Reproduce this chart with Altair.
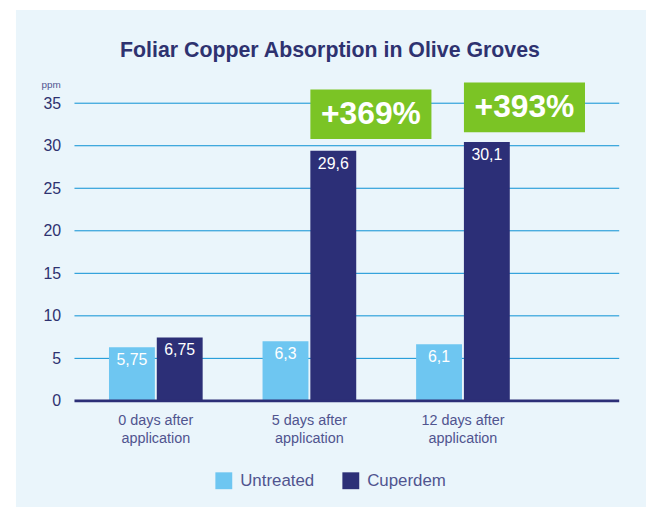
import altair as alt
import pandas as pd

# ---- data ----
categories = ["0 days after application", "5 days after application", "12 days after application"]
series = ["Untreated", "Cuperdem"]
untreated = [6.3, 7.0, 6.65]          # bar heights as drawn
cuperdem = [7.45, 29.4, 30.45]
untreated_labels = ["5,75", "6,3", "6,1"]
cuperdem_labels = ["6,75", "29,6", "30,1"]
gain_categories = ["5 days after application", "12 days after application"]
gain_labels = ["+369%", "+393%"]
gain_low = [30.8, 31.6]
gain_high = [36.6, 37.45]
y_ticks = [0, 5, 10, 15, 20, 25, 30, 35]

NAVY = "#2c2f77"
LIGHT = "#6ec6f1"
GREEN = "#7bc425"
GRID = "#0a90d4"
PANEL = "#eaf5fb"
LABEL = "#2e3270"
SOFT = "#50548f"

rows = []
for i, c in enumerate(categories):
    rows.append({"cat": c, "series": "Untreated", "value": untreated[i], "label": untreated_labels[i]})
    rows.append({"cat": c, "series": "Cuperdem", "value": cuperdem[i], "label": cuperdem_labels[i]})
df = pd.DataFrame(rows)

gdf = pd.DataFrame({"cat": gain_categories, "label": gain_labels, "low": gain_low, "high": gain_high})
gdf["mid"] = (gdf["low"] + gdf["high"]) / 2

tdf = pd.DataFrame({"tick": [t for t in y_ticks if t > 0]})

W, H = 549, 300

xenc = alt.X(
    "cat:N",
    sort=categories,
    scale=alt.Scale(domain=categories, range=[4.6, 468.9], paddingInner=0.39, paddingOuter=0.195),
    axis=alt.Axis(
        title=None, domain=False, ticks=False, grid=False, labelAngle=0, zindex=1,
        labelExpr="[replace(datum.label, ' application', ''), 'application']",
        labelFontSize=14.5, labelColor=SOFT, labelPadding=13, labelLineHeight=18,
        labelBaseline="top",
    ),
)
xoff = alt.XOffset("series:N", sort=series, scale=alt.Scale(domain=series, paddingInner=0.04))
yenc = alt.Y(
    "value:Q",
    title="ppm",
    scale=alt.Scale(domain=[0, 35], nice=False),
    axis=alt.Axis(
        values=y_ticks, ticks=False, domain=False, grid=False, zindex=1,
        labelFontSize=16, labelColor=LABEL, labelPadding=14,
        titleAngle=0, titleX=-24, titleY=-19, titleAlign="center", titleBaseline="middle",
        titleFontSize=10, titleFontWeight="normal", titleColor=SOFT,
    ),
)

bg = alt.Chart(pd.DataFrame({"a": [0]})).mark_rect(color=PANEL).encode(
    x=alt.value(-59), x2=alt.value(576), y=alt.value(-94), y2=alt.value(407)
)

grid = alt.Chart(tdf).mark_rule(color=GRID, strokeWidth=1).encode(y=alt.Y("tick:Q"))

bars = alt.Chart(df).mark_bar().encode(
    x=xenc,
    xOffset=xoff,
    y=yenc,
    color=alt.Color(
        "series:N", sort=series,
        scale=alt.Scale(domain=series, range=[LIGHT, NAVY]),
        legend=alt.Legend(
            title=None, orient="none", legendX=142, legendY=372, direction="horizontal",
            symbolType="square", symbolSize=289, symbolStrokeWidth=0,
            labelFontSize=17, labelColor=SOFT, labelOffset=8, columnPadding=28, padding=0,
        ),
    ),
)

values = alt.Chart(df).mark_text(color="white", fontSize=16, baseline="middle", dy=13).encode(
    x=alt.X("cat:N", sort=categories), xOffset=alt.XOffset("series:N", sort=series),
    y="value:Q", text="label:N",
)

zero = alt.Chart(pd.DataFrame({"a": [0]})).mark_rule(color=NAVY, strokeWidth=3).encode(y=alt.datum(0))

boxes = alt.Chart(gdf).mark_bar(color=GREEN, width=122, xOffset=62).encode(
    x=alt.X("cat:N", sort=categories), y="low:Q", y2="high:Q"
)
box_text = alt.Chart(gdf).mark_text(
    color="white", fontSize=32, fontWeight="bold", dx=62, baseline="middle"
).encode(x=alt.X("cat:N", sort=categories), y="mid:Q", text="label:N")

chart = alt.layer(bg, grid, bars, values, zero, boxes, box_text).properties(
    width=W, height=H,
    autosize=alt.AutoSizeParams(type="none"),
    padding={"left": 67, "top": 94, "right": 27, "bottom": 107},
    background="white",
    title=alt.TitleParams(
        "Foliar Copper Absorption in Olive Groves",
        fontSize=21.5, fontWeight="bold", color=LABEL, anchor="middle", dx=-17,
        frame="group", baseline="alphabetic", offset=-69,
    ),
).configure(font="Liberation Sans").configure_view(stroke=None)

chart.save("out.html", embed_options={"renderer": "svg", "actions": False})
